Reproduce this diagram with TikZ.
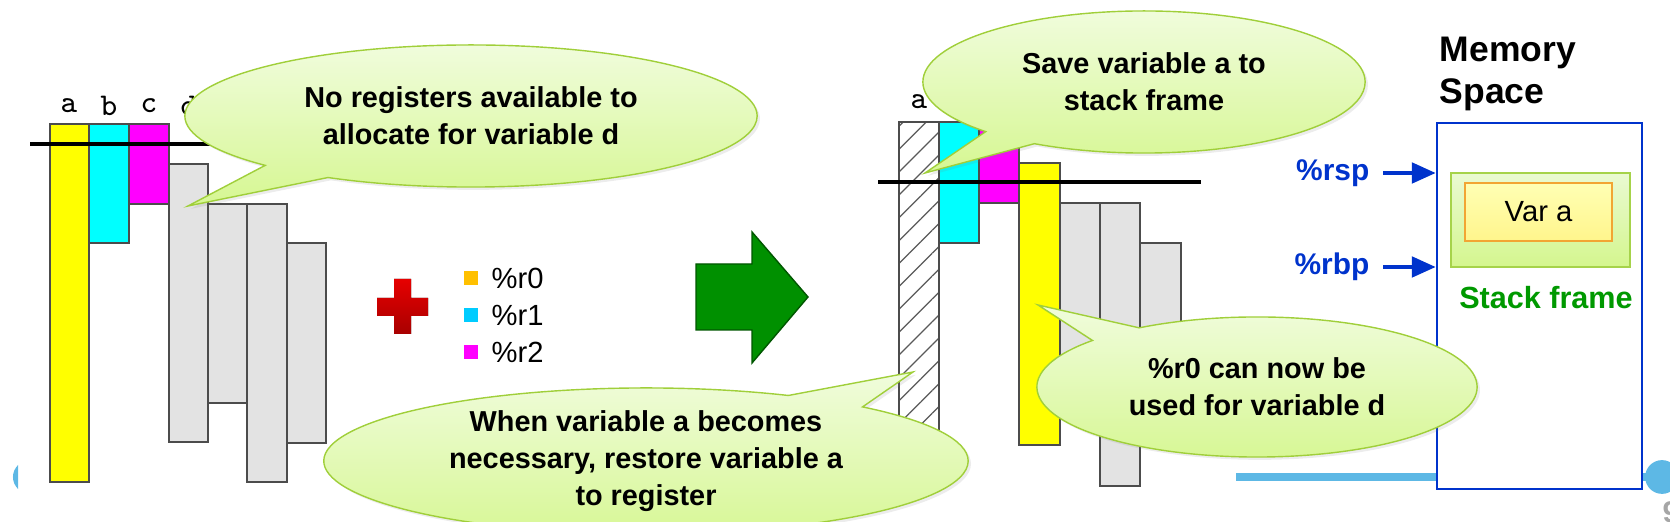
\documentclass[tikz,border=0pt]{standalone}
\usepackage{fontspec}
\setmainfont{Liberation Sans}
\usetikzlibrary{shapes.callouts,patterns.meta,arrows.meta,shadows}
\definecolor{bubbletop}{HTML}{F0FCDC}
\definecolor{bubblebot}{HTML}{D6F792}
\definecolor{bubbleedge}{HTML}{A0CF3A}
\definecolor{crosstop}{HTML}{E60000}
\definecolor{crossbot}{HTML}{A80000}
\definecolor{liveyellow}{HTML}{FFFF00}
\definecolor{livecyan}{HTML}{00FFFF}
\definecolor{livemagenta}{HTML}{FF00FF}
\definecolor{regzero}{HTML}{FFC000}
\definecolor{regone}{HTML}{00CCFF}
\definecolor{regtwo}{HTML}{FF00FF}
\definecolor{arrowgreen}{HTML}{009000}
\definecolor{memblue}{HTML}{0033CC}
\definecolor{framegreen}{HTML}{009900}
\definecolor{frametop}{HTML}{EAFAD2}
\definecolor{framebot}{HTML}{D4F68E}
\definecolor{frameedge}{HTML}{A6D34A}
\definecolor{vartop}{HTML}{FFFFB4}
\definecolor{varbot}{HTML}{FFF58C}
\definecolor{varedge}{HTML}{F2A533}
\definecolor{slideblue}{HTML}{5DB8E5}
\begin{document}
\begin{tikzpicture}[x=0.01cm,y=-0.01cm,
  bar/.style={draw=black!70,line width=0.3pt},
  freebar/.style={bar,fill=black!11},
  bubble/.style={ellipse callout,draw=bubbleedge,line width=0.4pt,
    top color=bubbletop,bottom color=bubblebot,inner sep=0pt,align=center,
    font=\fontsize{8.2}{10.5}\selectfont\bfseries,callout pointer arc=16,
    drop shadow={opacity=0.15,shadow xshift=0.8pt,shadow yshift=-0.8pt}},
  varname/.style={font=\ttfamily\fontsize{9}{10}\selectfont,inner sep=0pt},
  reg/.style={font=\fontsize{8.5}{10}\selectfont\bfseries,text=memblue,inner sep=0pt},
  ptr/.style={memblue,line width=1.1pt,-{Triangle[length=6.8pt,width=5.8pt]},shorten <=3.7pt},
  key/.style={minimum size=0.14cm,inner sep=0pt},
  keytext/.style={anchor=west,inner sep=0pt,font=\fontsize{8.3}{10}\selectfont}]
  \useasboundingbox (0,0) rectangle (1670,522);

  \foreach \xa/\xb/\ya/\yb/\col in {50/89/124/482/liveyellow,89/129/124/243/livecyan,129/169/124/204/livemagenta}
    \draw[bar,fill=\col] (\xa,\ya) rectangle (\xb,\yb);
  \foreach \xa/\xb/\ya/\yb in {169/208/164/442,208/247/204/403,247/287/204/482,287/326/243/443}
    \draw[freebar] (\xa,\ya) rectangle (\xb,\yb);
  \draw[line width=1.15pt] (30,144) -- (353,144);
  \node[varname] (la) at (69,106) {a};
  \node[varname] (lb) at (109,106) {b};
  \node[varname] (lc) at (149,106) {c};
  \node[varname] (ld) at (189,106) {d};

  \draw[bar,pattern={Lines[angle=45,distance=4.6pt,line width=0.35pt]},pattern color=black!65]
    (899,122) rectangle (939,482);
  \foreach \xa/\xb/\ya/\yb/\col in {939/979/122/243/livecyan,979/1019/122/203/livemagenta,1019/1060/163/445/liveyellow}
    \draw[bar,fill=\col] (\xa,\ya) rectangle (\xb,\yb);
  \foreach \xa/\xb/\ya/\yb in {1060/1100/203/403,1100/1140/203/486,1140/1181/243/443}
    \draw[freebar] (\xa,\ya) rectangle (\xb,\yb);
  \draw[line width=1.15pt] (878,182) -- (1201,182);
  \node[varname] (ra) at (919,102) {a};

  \fill[top color=crosstop,bottom color=crossbot]
    (394,279) -- (411,279) -- (411,298) -- (428,298) -- (428,316) -- (411,316) --
    (411,334) -- (394,334) -- (394,316) -- (377,316) -- (377,298) -- (394,298) -- cycle;
  \foreach \i/\c/\y in {0/regzero/278,1/regone/315,2/regtwo/352}{
    \node[key,fill=\c] (key\i) at (471,\y) {};
    \node[keytext] (reg\i) at (491,\y) {\%r\i};
  }

  \draw[fill=arrowgreen,draw=arrowgreen!60!black,line width=0.4pt]
    (696,264) -- (752,264) -- (752,232) -- (808,297) -- (752,363) -- (752,330) -- (696,330) -- cycle;

  \draw[line width=2.3pt,slideblue] (1236,477) -- (1662,477);
  \fill[slideblue] (1662,477) circle[radius=4.8pt];
  \begin{scope}
    \clip (0,440) rectangle (18,520);
    \fill[slideblue] (29.5,477) circle[radius=4.7pt];
  \end{scope}
  \node[anchor=north west,inner sep=0pt,text=black!35,font=\fontsize{8.5}{10}\selectfont\bfseries] (page) at (1662,501) {9};

  \node[draw=memblue,line width=0.7pt,fill=white,minimum width=2.05cm,minimum height=3.66cm,inner sep=0pt] (mem) at (1539.5,306) {};
  \node[draw=frameedge,line width=0.4pt,top color=frametop,bottom color=framebot,minimum width=1.79cm,minimum height=0.94cm,inner sep=0pt] (frame) at (1540.5,220) {};
  \node[draw=varedge,line width=0.5pt,top color=vartop,bottom color=varbot,minimum width=1.47cm,minimum height=0.58cm,inner sep=0pt,font=\fontsize{8.3}{10}\selectfont] (vara) at (1538.5,212) {Var a};
  \node[text=framegreen,inner sep=0pt,font=\fontsize{8.7}{10}\selectfont\bfseries] (sfl) at (1546,298) {Stack frame};
  \node[anchor=west,align=left,inner sep=0pt,font=\fontsize{10.1}{12}\selectfont\bfseries] (memt) at (1439,74) {Memory\\Space};
  \node[reg,anchor=east] (rsp) at (1370,173) {\%rsp};
  \node[reg,anchor=east] (rbp) at (1370,267) {\%rbp};
  \draw[ptr] (rsp.east) -- (rsp.east -| mem.west);
  \draw[ptr] (rbp.east) -- (rbp.east -| mem.west);

  \node[bubble,minimum width=5.72cm,minimum height=1.42cm,callout absolute pointer={(188,206)}] (nofree) at (471,116) {No registers available to\\allocate for variable d};
  \node[bubble,minimum width=4.42cm,minimum height=1.42cm,callout absolute pointer={(925,173)}] (spill) at (1144,82) {Save variable a to\\stack frame};
  \node[bubble,minimum width=6.44cm,minimum height=1.46cm,callout absolute pointer={(913,372)}] (reload) at (646,461) {When variable a becomes\\necessary, restore variable a\\to register};
  \node[bubble,minimum width=4.40cm,minimum height=1.40cm,callout absolute pointer={(1038,305)}] (reuse) at (1257,387) {\%r0 can now be\\used for variable d};
\end{tikzpicture}
\end{document}
